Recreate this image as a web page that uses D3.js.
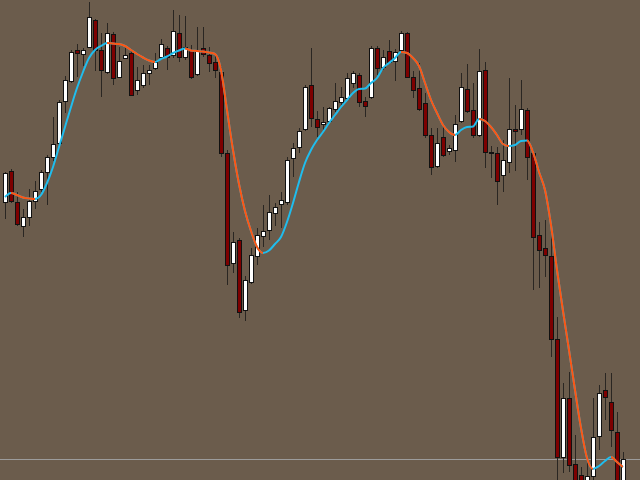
<!DOCTYPE html>
<html><head><meta charset="utf-8">
<script src="https://cdn.jsdelivr.net/npm/d3@7/dist/d3.min.js"></script>
<style>html,body{margin:0;padding:0;background:#6b5c4c;overflow:hidden}</style>
</head><body><svg id="c" width="640" height="480"></svg>
<script>
const opens  = [278,309,278,254,263,279,291,308,323,337,379,399,430,426,433,460,430,408,446,403,422,427,390,395,407,412,423,432,425,447,423,430,406,432,425,418,408,327,217,240,170,198,224,244,250,267,276,278,322,333,351,395,361,356,359,371,378,382,397,405,379,383,432,413,429,419,430,447,403,392,377,345,314,343,329,330,359,391,370,345,410,327,327,305,318,351,351,370,327,245,232,224,141,23,82,16,5,-5,4,44,90,78,48,-5];
const closes = [307,279,256,263,279,289,308,323,336,378,400,428,427,430,463,430,410,447,402,419,425,385,400,407,410,418,436,423,449,423,433,403,430,426,417,410,327,215,238,168,200,225,245,249,268,273,280,320,332,349,393,362,353,358,372,379,383,402,407,378,374,432,412,423,418,428,447,403,390,371,345,313,337,325,332,356,393,369,345,409,328,328,299,320,351,349,371,323,243,230,225,141,23,82,15,-10,-15,4,43,87,83,50,-5,21];
const highs  = [308,311,288,271,291,299,310,325,363,380,404,430,436,432,478,461,447,457,448,433,435,430,413,415,415,427,441,434,470,465,464,435,453,453,433,424,413,330,248,242,204,232,252,275,285,277,288,323,337,352,395,432,369,373,373,397,393,407,409,407,383,434,434,430,440,431,449,448,409,417,387,352,352,355,335,365,407,416,397,431,418,334,333,340,402,375,400,372,330,258,260,247,163,97,108,45,13,18,82,95,107,107,68,28];
const lows   = [261,277,254,243,254,271,288,275,319,335,367,397,403,414,432,409,383,406,395,402,421,384,385,392,395,410,420,410,422,418,420,401,404,423,408,402,323,195,207,162,159,196,215,233,240,254,252,275,303,327,349,353,343,350,357,368,375,380,392,373,363,381,405,410,416,399,428,402,382,369,342,305,312,323,325,318,357,367,342,343,312,302,275,288,307,309,345,300,190,192,203,123,-5,7,8,-20,-25,-15,0,30,60,33,-15,-10];
const maValues = [283,287,285,282.5,281.5,281,285,297,313,333,353,373,392,408,422,430,434,437,436.5,436,434,430,426,422.5,419.5,418,421,423.5,427,429.5,431.5,429.5,429,428.5,427.5,426,410,370,330,296,269,249,233,227,229.5,236,243,258,277,298,317,330,340,348,357,365,373,380,387,391,391.5,397,402,412,417,422,428,427,422,414,397,380,367,355,348,345,350,353,353.5,361,359,353,345,336,334,335,339,339.5,328,308,290,255,210,169,130,90,52,22,11,14,19,23,18,13];
const bidLevel = 21.5;

const W = 640, H = 480;
const svg = d3.select('#c');
const x = d3.scaleLinear().domain([0, opens.length - 1]).range([5, 5 + 6 * (opens.length - 1)]);
const y = d3.scaleLinear().domain([0, 480]).range([480, 0]);

svg.append('rect').attr('width', W).attr('height', H).attr('fill', '#6b5c4c');

// bid line
svg.append('line').attr('x1', 0).attr('x2', W)
  .attr('y1', Math.round(y(bidLevel)) + 0.5).attr('y2', Math.round(y(bidLevel)) + 0.5)
  .attr('stroke', '#9c9c9c').attr('stroke-width', 1);

const idx = d3.range(opens.length);
const g = svg.append('g');
// wicks
g.selectAll('line.w').data(idx).join('line').attr('class', 'w')
  .attr('x1', i => Math.round(x(i)) + 0.5).attr('x2', i => Math.round(x(i)) + 0.5)
  .attr('y1', i => Math.round(y(highs[i]))).attr('y2', i => Math.round(y(lows[i])))
  .attr('stroke', '#2a2622').attr('stroke-width', 1);
// bodies
g.selectAll('rect.b').data(idx).join('rect').attr('class', 'b')
  .attr('x', i => Math.round(x(i)) - 1.5)
  .attr('width', 4)
  .attr('y', i => Math.round(y(Math.max(opens[i], closes[i]))) + 0.5)
  .attr('height', i => Math.max(1, Math.round(y(Math.min(opens[i], closes[i]))) - Math.round(y(Math.max(opens[i], closes[i])))))
  .attr('fill', i => closes[i] >= opens[i] ? '#ffffff' : '#7d0000')
  .attr('stroke', '#111111').attr('stroke-width', 1);

// moving average: cyan rising, orange falling
const line = d3.line().x(i => x(i)).y(i => y(maValues[i])).curve(d3.curveMonotoneX);
const defs = svg.append('defs');
const clip = defs.append('clipPath').attr('id', 'falling');
for (let i = 1; i < maValues.length; i++) {
  if (maValues[i] < maValues[i - 1]) {
    clip.append('rect').attr('x', x(i - 1)).attr('width', x(i) - x(i - 1)).attr('y', 0).attr('height', H);
  }
}
svg.append('path').attr('d', line(idx)).attr('fill', 'none')
  .attr('stroke', '#1fbdee').attr('stroke-width', 2);
svg.append('path').attr('d', line(idx)).attr('fill', 'none')
  .attr('stroke', '#ff5512').attr('stroke-width', 2).attr('clip-path', 'url(#falling)');
</script></body></html>
